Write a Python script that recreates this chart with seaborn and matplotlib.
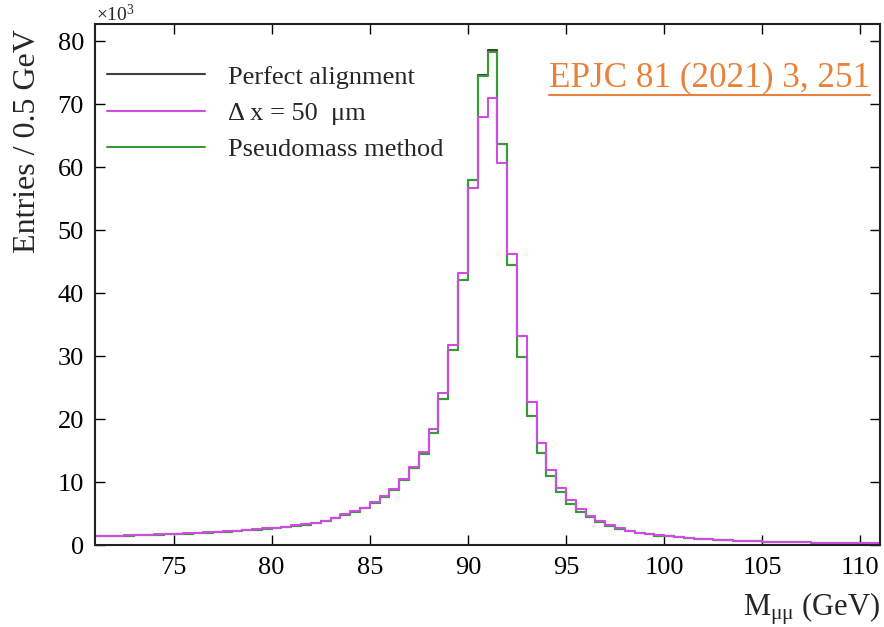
import numpy as np
import pandas as pd
import seaborn as sns
import matplotlib
matplotlib.use("Agg")
import matplotlib.pyplot as plt
from matplotlib.lines import Line2D

# Dimuon invariant mass, 0.5 GeV bins from 71 to 111 GeV (entries in units of 10^3)
bin_lo, bin_hi, bin_width = 71.0, 111.0, 0.5

perfect_alignment = [
    1.35, 1.40, 1.45, 1.50, 1.55, 1.60, 1.65, 1.70, 1.76, 1.82,
    1.89, 1.96, 2.04, 2.13, 2.23, 2.34, 2.46, 2.58, 2.72, 2.88,
    3.05, 3.25, 3.48, 3.82, 4.22, 4.80, 5.25, 5.85, 6.65, 7.65,
    8.75, 10.3, 12.2, 14.4, 17.7, 23.2, 30.9, 42.1, 58.0, 74.6,
    78.6, 63.6, 44.4, 29.8, 20.4, 14.6, 11.0, 8.4, 6.5, 5.3,
    4.4, 3.65, 3.05, 2.55, 2.20, 1.92, 1.70, 1.50, 1.36, 1.22,
    1.10, 1.00, 0.91, 0.83, 0.76, 0.69, 0.63, 0.58, 0.54, 0.50,
    0.46, 0.43, 0.40, 0.38, 0.36, 0.34, 0.32, 0.30, 0.29, 0.27,
]
misaligned_50um = [
    1.37, 1.42, 1.47, 1.52, 1.57, 1.62, 1.67, 1.73, 1.79, 1.85,
    1.92, 2.00, 2.08, 2.17, 2.27, 2.38, 2.50, 2.63, 2.77, 2.93,
    3.10, 3.30, 3.54, 3.88, 4.30, 4.90, 5.35, 5.95, 6.80, 7.80,
    8.90, 10.5, 12.4, 14.8, 18.4, 24.1, 31.7, 43.2, 56.6, 67.9,
    70.9, 60.7, 46.2, 33.1, 22.7, 16.2, 11.9, 9.1, 7.1, 5.7,
    4.6, 3.80, 3.15, 2.62, 2.25, 1.96, 1.73, 1.53, 1.38, 1.24,
    1.12, 1.02, 0.93, 0.85, 0.77, 0.70, 0.64, 0.59, 0.55, 0.51,
    0.47, 0.44, 0.41, 0.39, 0.37, 0.35, 0.33, 0.31, 0.30, 0.28,
]
pseudomass = [
    1.35, 1.40, 1.45, 1.50, 1.55, 1.60, 1.65, 1.70, 1.76, 1.82,
    1.89, 1.96, 2.04, 2.13, 2.23, 2.34, 2.46, 2.58, 2.72, 2.88,
    3.05, 3.25, 3.48, 3.82, 4.22, 4.80, 5.25, 5.85, 6.65, 7.65,
    8.75, 10.3, 12.2, 14.4, 17.7, 23.2, 30.9, 42.1, 58.0, 74.4,
    78.3, 63.6, 44.4, 29.8, 20.4, 14.6, 11.0, 8.4, 6.5, 5.3,
    4.4, 3.65, 3.05, 2.55, 2.20, 1.92, 1.70, 1.50, 1.36, 1.22,
    1.10, 1.00, 0.91, 0.83, 0.76, 0.69, 0.63, 0.58, 0.54, 0.50,
    0.46, 0.43, 0.40, 0.38, 0.36, 0.34, 0.32, 0.30, 0.29, 0.27,
]

series = [
    ("Perfect alignment", perfect_alignment, "#3f3f3f"),
    ("\u0394 x = 50  \u03bcm", misaligned_50um, "#cc4ede"),
    ("Pseudomass method", pseudomass, "#3a9a3a"),
]
draw_order = [0, 2, 1]

bin_edges = np.arange(bin_lo, bin_hi + bin_width / 2, bin_width)
bin_centers = bin_edges[:-1] + bin_width / 2

sns.set_theme(style="ticks")
plt.rcParams["font.family"] = ["Liberation Serif", "DejaVu Serif"]
plt.rcParams["mathtext.fontset"] = "custom"
plt.rcParams["mathtext.rm"] = "Liberation Serif"
plt.rcParams["mathtext.it"] = "Liberation Serif"  # upright greek, ROOT-like

fig = plt.figure(figsize=(8.84, 6.27), dpi=100)
ax = fig.add_axes([95 / 884, 82 / 627, 785 / 884, 521 / 627])

for i in draw_order:
    label, vals, col = series[i]
    df = pd.DataFrame({"mass": bin_centers, "entries": vals})
    # bins passed as a list: seaborn 0.13 compares bins == "auto" when weights are set
    sns.histplot(data=df, x="mass", weights="entries", bins=bin_edges.tolist(),
                 element="step", fill=False, color=col, linewidth=1.5, ax=ax)

ax.set_xlim(bin_lo, bin_hi)
ax.set_ylim(0, 82.7)
ax.set_xticks(np.arange(75, 111, 5))
ax.set_yticks(np.arange(0, 81, 10))
ax.tick_params(direction="in", length=7, width=1.0, top=True, right=True,
               labelsize=19, colors="black", pad=8)
ax.tick_params(axis="x", pad=9)
for sp in ax.spines.values():
    sp.set_visible(True)
    sp.set_linewidth(1.5)
    sp.set_color("#222222")

ax.set_xlabel(r"M$_{\mu\mu}$ (GeV)", fontsize=22, loc="right")
ax.xaxis.set_label_coords(1.0, -0.088)
ax.set_ylabel("Entries / 0.5 GeV", fontsize=23, loc="top")
ax.yaxis.set_label_coords(-0.068, 0.99)

handles = [Line2D([0], [0], color=c, linewidth=1.5) for _, _, c in series]
ax.legend(handles, [s[0] for s in series], loc="upper left",
          bbox_to_anchor=(0.0153, 0.921), frameon=False, fontsize=19,
          handlelength=3.7, handletextpad=0.87, labelspacing=0.48,
          borderpad=0, borderaxespad=0)

fig.text(96 / 884, 1 - 21 / 627, r"$\times$10$^{3}$", fontsize=14,
         ha="left", va="baseline")

ref = fig.text(549 / 884, 1 - 78 / 627, "EPJC 81 (2021) 3, 251", color="#e8823a",
               fontsize=25.3, ha="left", va="center")
fig.canvas.draw()
bb = ref.get_window_extent().transformed(fig.transFigure.inverted())
fig.add_artist(Line2D([bb.x0, bb.x1], [1 - 95 / 627, 1 - 95 / 627],
                      transform=fig.transFigure, color="#e8823a", linewidth=1.5))

plt.savefig("out.png", dpi=100)
